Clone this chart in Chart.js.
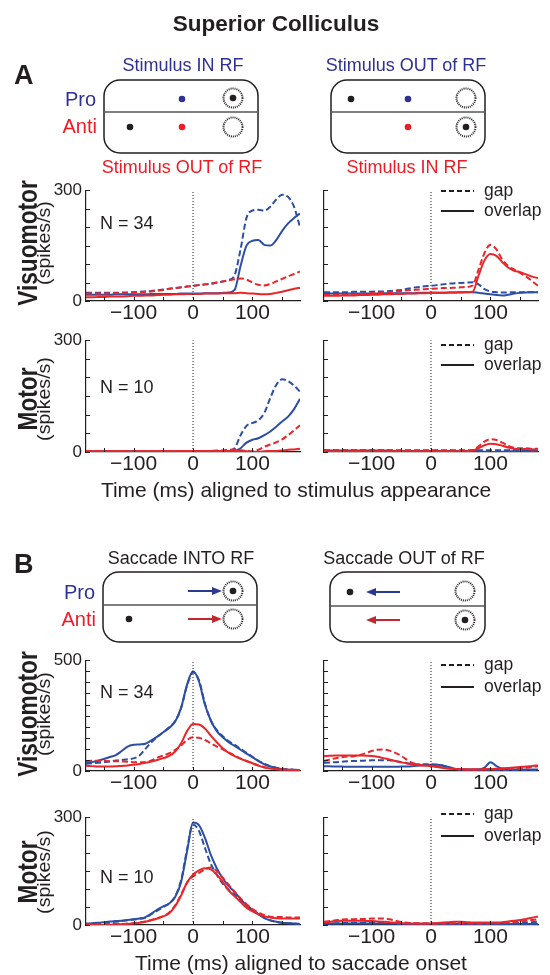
<!DOCTYPE html>
<html>
<head>
<meta charset="utf-8">
<script src="https://cdn.jsdelivr.net/npm/chart.js@4.4.1/dist/chart.umd.min.js"></script>
<style>
  html, body { margin: 0; padding: 0; background: #fff; }
  #fig { position: relative; width: 550px; height: 975px; overflow: hidden; }
  #fig canvas { position: absolute; }
  #art { position: absolute; left: 0; top: 0; z-index: 2; pointer-events: none; }
</style>
</head>
<body>
<div id="fig">
<svg id="art" width="550" height="975" xmlns="http://www.w3.org/2000/svg">
  <g font-family="Liberation Sans, Arial, sans-serif" fill="#231f20">
    <text x="276" y="31" font-size="22.5" font-weight="bold" text-anchor="middle">Superior Colliculus</text>
    <text x="14" y="84" font-size="27" font-weight="bold">A</text>
    <text x="14" y="573" font-size="27" font-weight="bold">B</text>

    <!-- panel A schematic labels -->
    <text x="183" y="71" font-size="18" text-anchor="middle" fill="#2e3192">Stimulus IN RF</text>
    <text x="406" y="71" font-size="18" text-anchor="middle" fill="#2e3192">Stimulus OUT of RF</text>
    <text x="182" y="173" font-size="18" text-anchor="middle" fill="#ed1c24">Stimulus OUT of RF</text>
    <text x="407" y="173" font-size="18" text-anchor="middle" fill="#ed1c24">Stimulus IN RF</text>
    <text x="96" y="106" font-size="20" text-anchor="end" fill="#2e3192">Pro</text>
    <text x="97" y="133" font-size="20" text-anchor="end" fill="#ed1c24">Anti</text>

    <!-- panel B schematic labels -->
    <text x="181" y="564" font-size="18" text-anchor="middle">Saccade INTO RF</text>
    <text x="404" y="564" font-size="18" text-anchor="middle">Saccade OUT of RF</text>
    <text x="95" y="599" font-size="20" text-anchor="end" fill="#2e3192">Pro</text>
    <text x="96" y="626" font-size="20" text-anchor="end" fill="#ed1c24">Anti</text>

    <!-- row labels -->
    <text transform="translate(36.5,243) rotate(-90) scale(0.81,1)" text-anchor="middle" font-size="28" font-weight="bold">Visuomotor</text>
    <text transform="translate(49.5,243) rotate(-90) scale(1.12,1)" text-anchor="middle" font-size="17.5">(spikes/s)</text>
    <text transform="translate(36.5,399) rotate(-90) scale(0.81,1)" text-anchor="middle" font-size="28" font-weight="bold">Motor</text>
    <text transform="translate(49.5,399) rotate(-90) scale(1.12,1)" text-anchor="middle" font-size="17.5">(spikes/s)</text>
    <text transform="translate(36.5,714) rotate(-90) scale(0.81,1)" text-anchor="middle" font-size="28" font-weight="bold">Visuomotor</text>
    <text transform="translate(49.5,714) rotate(-90) scale(1.12,1)" text-anchor="middle" font-size="17.5">(spikes/s)</text>
    <text transform="translate(36.5,872) rotate(-90) scale(0.81,1)" text-anchor="middle" font-size="28" font-weight="bold">Motor</text>
    <text transform="translate(49.5,872) rotate(-90) scale(1.12,1)" text-anchor="middle" font-size="17.5">(spikes/s)</text>

    <!-- N counts -->
    <text x="100" y="229" font-size="18">N = 34</text>
    <text x="100" y="393" font-size="18">N = 10</text>
    <text x="100" y="698" font-size="18">N = 34</text>
    <text x="100" y="883" font-size="18">N = 10</text>

    <!-- x axis titles -->
    <text x="296" y="497" font-size="21" text-anchor="middle">Time (ms) aligned to stimulus appearance</text>
    <text x="301" y="970" font-size="21" text-anchor="middle">Time (ms) aligned to saccade onset</text>

    <!-- legends -->
    <g font-size="17.5">
      <text x="484" y="196">gap</text><text x="484" y="216">overlap</text>
      <text x="484" y="350">gap</text><text x="484" y="370">overlap</text>
      <text x="484" y="670">gap</text><text x="484" y="692">overlap</text>
      <text x="484" y="819">gap</text><text x="484" y="841">overlap</text>
    </g>
  </g>
  <g stroke="#231f20" stroke-width="2">
    <line x1="441" x2="474" y1="191" y2="191" stroke-dasharray="5 3"/>
    <line x1="441" x2="474" y1="211" y2="211"/>
    <line x1="441" x2="474" y1="345" y2="345" stroke-dasharray="5 3"/>
    <line x1="441" x2="474" y1="365" y2="365"/>
    <line x1="441" x2="474" y1="665" y2="665" stroke-dasharray="5 3"/>
    <line x1="441" x2="474" y1="687" y2="687"/>
    <line x1="441" x2="474" y1="814" y2="814" stroke-dasharray="5 3"/>
    <line x1="441" x2="474" y1="836" y2="836"/>
  </g>

  <!-- schematic boxes -->
  <g fill="none" stroke="#231f20" stroke-width="1.5">
    <rect x="104" y="80" width="154" height="73" rx="16"/>
    <rect x="331" y="80" width="154" height="73" rx="16"/>
    <rect x="103" y="572" width="154" height="70" rx="16"/>
    <rect x="330" y="572" width="155" height="70" rx="16"/>
  </g>
  <g stroke="#555" stroke-width="1.5">
    <line x1="104" x2="258" y1="112" y2="112"/>
    <line x1="331" x2="485" y1="112" y2="112"/>
    <line x1="103" x2="257" y1="605" y2="605"/>
    <line x1="330" x2="485" y1="606" y2="606"/>
  </g>
  <g fill="none" stroke="#231f20" stroke-width="2" stroke-dasharray="1 1">
    <circle cx="233" cy="98" r="9.5"/><circle cx="233" cy="127" r="9.5"/>
    <circle cx="466" cy="98" r="9.5"/><circle cx="466" cy="127" r="9.5"/>
    <circle cx="233" cy="591" r="9.5"/><circle cx="233" cy="619" r="9.5"/>
    <circle cx="465" cy="591" r="9.5"/><circle cx="465" cy="620" r="9.5"/>
  </g>
  <g fill="#231f20">
    <circle cx="233" cy="98" r="3.3"/><circle cx="130" cy="127" r="3.3"/>
    <circle cx="351" cy="99" r="3.3"/><circle cx="466" cy="127" r="3.3"/>
    <circle cx="233" cy="591" r="3.3"/><circle cx="129" cy="619" r="3.3"/>
    <circle cx="350" cy="592" r="3.3"/><circle cx="465" cy="620" r="3.3"/>
  </g>
  <circle cx="182" cy="99" r="3.3" fill="#2e3192"/>
  <circle cx="408" cy="99" r="3.3" fill="#2e3192"/>
  <circle cx="182" cy="127" r="3.3" fill="#ed1c24"/>
  <circle cx="408" cy="127" r="3.3" fill="#ed1c24"/>

  <!-- saccade arrows -->
  <line x1="188" x2="214" y1="591" y2="591" stroke="#2b3990" stroke-width="2"/>
  <polygon points="222,591 212,587 212,595" fill="#2b3990"/>
  <line x1="188" x2="214" y1="619" y2="619" stroke="#c1272d" stroke-width="2"/>
  <polygon points="222,619 212,615 212,623" fill="#c1272d"/>
  <line x1="400" x2="374" y1="592" y2="592" stroke="#2b3990" stroke-width="2"/>
  <polygon points="366,592 376,588 376,596" fill="#2b3990"/>
  <line x1="400" x2="374" y1="620" y2="620" stroke="#c1272d" stroke-width="2"/>
  <polygon points="366,620 376,616 376,624" fill="#c1272d"/>
</svg>
</div>

<script>
// time axis (ms), one value every 10 ms
const timeMs = [-180,-170,-160,-150,-140,-130,-120,-110,-100,-90,-80,-70,-60,-50,-40,-30,-20,-10,0,10,20,30,40,50,60,70,80,90,100,110,120,130,140,150,160,170,180];

// tick marks and labels
const xTickValues = [-150, -100, -50, 0, 50, 100, 150];
const xLabelValues = [-100, 0, 100];
const xLabelTexts = ['\u2212100', '0', '100'];
const yLabels300 = [0, 300];
const yLabels500 = [0, 500];

// A: aligned to stimulus, visuomotor, stimulus IN RF for pro (left)
const aVmL_proGap      = [22,22,22,22,22,22,23,23, 24,25,26,27,29,31,33,35,37,39, 41,43,45,47,50,53,57,70,140,225, 245,247,245,255,275,288,282,255,200];
const aVmL_proOverlap  = [17,17,17,17,17,18,18,18, 18,18,18,19,19,19,19,19,20,20, 20,20,21,21,21,22,23,30,95,150, 163,165,152,150,165,190,210,225,237];
const aVmL_antiGap     = [20,20,20,20,21,21,21,22, 23,24,25,26,28,30,33,35,37,39, 41,43,45,47,50,53,56,59,61,58, 50,44,42,46,53,60,67,73,80];
const aVmL_antiOverlap = [10,10,11,11,12,12,12,13, 14,14,15,15,16,17,17,18,18,19, 19,19,20,20,20,21,21,21,22,21, 20,19,18,19,22,25,29,33,36];

// A: visuomotor, stimulus OUT of RF for pro (right)
const aVmR_proGap      = [24,24,24,24,24,25,25,25, 25,26,26,27,28,30,33,36,38,40, 41,43,45,47,48,49,50,51,45,32, 26,24,23,23,24,24,24,24,24];
const aVmR_proOverlap  = [20,20,20,20,20,20,20,20, 20,20,21,21,21,21,21,21,22,22, 22,22,22,23,23,24,24,24,22,20, 18,16,15,17,20,22,23,24,24];
const aVmR_antiGap     = [16,16,17,17,18,18,19,20, 21,22,23,24,26,27,29,30,31,32, 33,34,35,35,36,37,38,42,85,130, 152,140,112,95,85,76,66,54,41];
const aVmR_antiOverlap = [14,14,14,15,15,15,16,16, 17,17,18,18,19,19,20,20,21,21, 22,22,22,23,23,23,24,25,69,110, 127,122,105,90,82,78,72,66,62];

// A: motor
const aMoL_proGap      = [3,3,3,3,3,3,3,3, 3,3,3,3,3,3,3,3,3,3, 3,3,3,3,3,3,4,10,45,70, 78,85,105,145,180,195,190,178,162];
const aMoL_proOverlap  = [2,2,2,2,2,2,2,2, 2,2,2,2,2,2,2,2,2,2, 2,2,2,2,2,2,2,3,10,25, 33,37,45,55,68,82,95,115,143];
const aMoL_antiGap     = [3,3,3,3,3,3,3,3, 3,3,3,3,3,3,3,3,3,3, 3,3,3,3,4,4,6,7,5,3, 2,6,14,20,26,34,45,58,72];
const aMoL_antiOverlap = [2,2,2,2,2,2,2,2, 2,2,2,2,2,2,2,2,3,3, 3,3,3,3,3,3,3,3,3,2, 1,1,2,3,3,4,6,7,9];

const aMoR_proGap      = [5,5,5,5,5,5,5,5, 5,5,5,5,5,5,5,5,5,5, 5,5,5,5,5,5,5,5,5,5, 5,5,5,5,5,5,6,6,6];
const aMoR_proOverlap  = [4,4,4,4,4,4,4,4, 4,4,4,4,3,3,3,3,3,3, 3,3,3,3,3,3,3,3,2,1, 0,0,1,2,2,2,3,3,3];
const aMoR_antiGap     = [3,3,3,3,3,3,3,3, 3,3,3,3,3,3,3,3,3,3, 3,3,3,3,3,3,3,5,15,28, 34,32,25,16,11,10,10,9,9];
const aMoR_antiOverlap = [2,2,2,2,2,2,2,2, 2,2,2,2,2,2,2,2,2,2, 2,2,2,2,2,2,2,4,10,18, 22,21,17,12,9,8,8,7,7];

// B: aligned to saccade onset, visuomotor
const bVmL_proGap      = [33,35,37,40,43,47,50,53, 57,70,100,130,155,175,198,225,285,385, 445,410,305,228,185,157,135,118,100,82, 64,46,32,22,15,10,7,6,5];
const bVmL_proOverlap  = [37,40,46,54,63,72,90,110, 118,120,123,138,155,175,195,223,285,390, 450,405,300,228,180,152,130,113,96,78, 62,45,30,20,13,9,6,5,4];
const bVmL_antiGap     = [45,46,46,45,44,44,43,42, 40,39,40,48,60,70,80,95,115,140, 152,150,140,125,110,98,84,70,57,45, 35,25,17,12,9,7,6,5,5];
const bVmL_antiOverlap = [24,22,20,20,20,21,23,25, 28,32,37,43,50,58,68,88,125,180, 212,210,192,160,130,103,82,67,55,45, 35,24,16,11,8,6,5,4,4];

const bVmR_proGap      = [37,38,40,42,44,45,46,47, 48,49,49,48,45,40,35,31,30,30, 30,28,24,15,9,7,6,6,6,6, 6,5,5,5,5,5,5,5,5];
const bVmR_proOverlap  = [22,21,20,20,19,19,19,19, 19,19,19,19,19,20,20,22,25,27, 28,28,25,18,10,7,7,7,7,15, 40,22,10,8,7,7,7,7,7];
const bVmR_antiGap     = [45,52,58,62,65,67,72,80, 90,96,97,92,82,68,50,35,28,26, 25,20,15,11,9,8,7,7,7,7, 7,7,8,9,10,12,15,18,22];
const bVmR_antiOverlap = [67,69,70,70,70,70,70,69, 68,64,58,52,45,39,34,30,26,24, 22,18,14,11,9,8,7,7,7,8, 9,10,12,14,16,18,20,23,25];

// B: motor
const bMoL_proGap      = [3,3,4,5,7,9,11,13, 15,17,20,30,40,50,60,80,125,210, 280,262,215,170,140,115,98,85,70,55, 42,30,20,13,9,6,5,4,3];
const bMoL_proOverlap  = [4,5,6,8,10,11,12,14, 16,18,22,32,43,52,60,78,120,205, 285,278,243,195,158,130,108,92,72,55, 42,30,19,13,9,6,5,4,3];
const bMoL_antiGap     = [2,2,2,2,2,3,3,4, 5,7,10,14,19,25,35,55,85,118, 135,145,155,160,150,132,112,92,74,58, 44,35,27,23,22,22,21,21,21];
const bMoL_antiOverlap = [1,1,1,1,1,2,2,3, 4,6,9,13,18,24,33,52,82,118, 140,152,158,155,140,120,96,80,64,48, 38,30,24,21,19,18,18,18,18];

const bMoR_proGap      = [4,4,5,5,6,6,6,6, 6,6,6,5,5,4,4,4,4,4, 4,4,4,4,4,4,4,4,4,4, 4,4,4,4,5,6,7,8,9];
const bMoR_proOverlap  = [4,4,4,4,4,4,4,4, 4,4,4,4,4,3,3,3,3,3, 3,3,3,3,3,3,3,3,3,3, 3,3,3,3,3,3,3,3,3];
const bMoR_antiGap     = [9,11,13,15,16,16,17,17, 18,18,18,16,12,8,6,5,4,4, 4,4,4,4,4,4,4,4,4,4, 5,5,6,7,9,10,12,14,16];
const bMoR_antiOverlap = [7,9,11,12,12,12,12,11, 11,10,9,8,6,5,4,4,4,4, 4,5,7,8,9,9,8,7,7,7, 7,7,8,10,12,14,17,20,24];

Chart.defaults.font.family = "'Liberation Sans', Arial, sans-serif";
Chart.defaults.color = '#231f20';

const BLUE = '#2c4ea3';
const RED = '#e8262b';
const INK = '#231f20';

// small ticks pointing into the plot, like the original figure
const inwardTicks = {
    id: 'inwardTicks',
    afterDraw(chart) {
        const { ctx, chartArea: a, scales: { x, y } } = chart;
        ctx.save();
        ctx.strokeStyle = INK;
        ctx.lineWidth = 1;
        ctx.beginPath();
        y.ticks.forEach(t => {
            const py = Math.round(y.getPixelForValue(t.value)) + 0.5;
            ctx.moveTo(a.left, py);
            ctx.lineTo(a.left + 4, py);
        });
        x.ticks.forEach(t => {
            const px = Math.round(x.getPixelForValue(t.value)) + 0.5;
            ctx.moveTo(px, a.bottom);
            ctx.lineTo(px, a.bottom - 4);
        });
        ctx.stroke();
        ctx.restore();
    }
};

const panels = [
    { L: 86,  R: 300, T: 188, B: 301, left: true,  yLabels: yLabels300, series: [aVmL_proGap, aVmL_proOverlap, aVmL_antiGap, aVmL_antiOverlap] },
    { L: 324, R: 538, T: 188, B: 301, left: false, yLabels: yLabels300, series: [aVmR_proGap, aVmR_proOverlap, aVmR_antiGap, aVmR_antiOverlap] },
    { L: 86,  R: 300, T: 338, B: 452, left: true,  yLabels: yLabels300, series: [aMoL_proGap, aMoL_proOverlap, aMoL_antiGap, aMoL_antiOverlap] },
    { L: 324, R: 538, T: 338, B: 452, left: false, yLabels: yLabels300, series: [aMoR_proGap, aMoR_proOverlap, aMoR_antiGap, aMoR_antiOverlap] },
    { L: 86,  R: 300, T: 658, B: 771, left: true,  yLabels: yLabels500, series: [bVmL_proGap, bVmL_proOverlap, bVmL_antiGap, bVmL_antiOverlap] },
    { L: 324, R: 538, T: 658, B: 771, left: false, yLabels: yLabels500, series: [bVmR_proGap, bVmR_proOverlap, bVmR_antiGap, bVmR_antiOverlap] },
    { L: 86,  R: 300, T: 815, B: 925, left: true,  yLabels: yLabels300, series: [bMoL_proGap, bMoL_proOverlap, bMoL_antiGap, bMoL_antiOverlap] },
    { L: 324, R: 538, T: 815, B: 925, left: false, yLabels: yLabels300, series: [bMoR_proGap, bMoR_proOverlap, bMoR_antiGap, bMoR_antiOverlap] }
];

function trace(vals, color, dashed) {
    return {
        data: timeMs.map((t, i) => ({ x: t, y: vals[i] })),
        borderColor: color,
        borderWidth: 2,
        borderDash: dashed ? [6, 3] : [],
        pointRadius: 0,
        cubicInterpolationMode: 'monotone'
    };
}

function drawPanel(p) {
    const yW = p.left ? 48 : 8;
    const padTop = 12, padRight = p.left ? 10 : 12, xH = 28;
    const w = (p.R - p.L) + yW + padRight;
    const h = (p.B - p.T) + padTop + xH;
    const yMax = p.yLabels[p.yLabels.length - 1];

    const c = document.createElement('canvas');
    c.width = w; c.height = h;
    c.style.width = w + 'px'; c.style.height = h + 'px';
    c.style.left = (p.L - yW) + 'px';
    c.style.top = (p.T - padTop) + 'px';
    document.getElementById('fig').appendChild(c);

    new Chart(c, {
        type: 'line',
        data: {
            datasets: [
                // dotted line at time zero
                { data: [{ x: 0, y: 0 }, { x: 0, y: yMax }], borderColor: INK, borderWidth: 1, borderDash: [1, 2], pointRadius: 0 },
                trace(p.series[3], RED, false),
                trace(p.series[2], RED, true),
                trace(p.series[1], BLUE, false),
                trace(p.series[0], BLUE, true)
            ]
        },
        options: {
            responsive: false,
            animation: false,
            devicePixelRatio: 1,
            events: [],
            layout: { padding: { top: padTop, right: padRight, left: 0, bottom: 0 } },
            plugins: { legend: { display: false }, tooltip: { enabled: false } },
            scales: {
                x: {
                    type: 'linear', min: -180, max: 180,
                    afterBuildTicks: s => { s.ticks = xTickValues.map(v => ({ value: v })); },
                    afterFit: s => { s.height = xH; },
                    ticks: {
                        autoSkip: false, maxRotation: 0, padding: 0,
                        font: { size: 21 }, color: INK,
                        callback: v => {
                            const k = xLabelValues.indexOf(v);
                            return k < 0 ? '' : xLabelTexts[k];
                        }
                    },
                    grid: { display: false, drawTicks: false },
                    border: { display: true, color: INK, width: 1.2 }
                },
                y: {
                    type: 'linear', min: 0, max: yMax,
                    afterFit: s => { s.width = yW; },
                    ticks: {
                        stepSize: 50, autoSkip: false, padding: 4,
                        font: { size: 17 }, color: INK,
                        callback: v => (p.left && p.yLabels.includes(v)) ? String(v) : ''
                    },
                    grid: { display: false, drawTicks: false },
                    border: { display: true, color: INK, width: 1.2 }
                }
            }
        },
        plugins: [inwardTicks]
    });
}

panels.forEach(drawPanel);
</script>
</body>
</html>
